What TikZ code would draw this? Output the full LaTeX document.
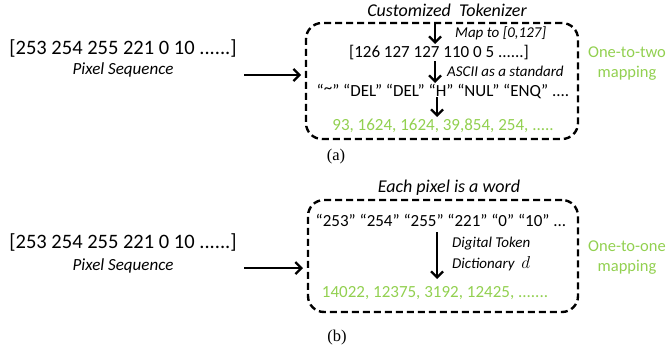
\documentclass[tikz,border=0pt]{standalone}
\usepackage{fontspec}
\setmainfont{Carlito}
\newfontfamily\capfont{Liberation Serif}
\usetikzlibrary{arrows.meta}
\definecolor{lgreen}{RGB}{146,208,80}
\begin{document}
\begin{tikzpicture}[x=1pt,y=-1pt,
  dbox/.style={draw,line width=2.4pt,dash pattern=on 7pt off 4pt,rounded corners=16pt},
  arr/.style={line width=2.3pt,-{Straight Barb[length=6pt,width=12pt,line width=2.3pt]}},
  main/.style={font=\fontsize{17}{19}\selectfont,inner sep=0pt},
  big/.style={font=\fontsize{20.5}{22}\selectfont,inner sep=0pt},
  lab/.style={font=\fontsize{17}{18}\selectfont\itshape,inner sep=0pt},
  ttl/.style={font=\fontsize{18}{20}\selectfont\itshape,inner sep=0pt},
  small/.style={font=\fontsize{15}{17}\selectfont\itshape,inner sep=0pt},
  grn/.style={font=\fontsize{17}{19}\selectfont,text=lgreen,inner sep=0pt},
  side/.style={font=\fontsize{16.5}{20}\selectfont,text=lgreen,inner sep=0pt,align=center},
  captext/.style={font=\capfont\fontsize{16.5}{18}\selectfont,inner sep=0pt}]
\useasboundingbox (0,0) rectangle (668,351);
% ---- (a)
\node[dbox,minimum width=272pt,minimum height=116pt] (boxa) at (442,81) {};
\node[ttl] (ta) at (447,10) {Customized\ \ Tokenizer};
\coordinate (a0) at (435,22);
\node[main] (a1) at (439,53) {[126 127 127 110 0 5 ......]};
\node[main] (a2) at (443,91) {“\raisebox{3pt}{\char`~}” “DEL” “DEL” “H” “NUL” “ENQ” ....};
\node[grn] (a3) at (443,126) {93, 1624, 1624, 39,854, 254, .....};
\coordinate (a1t) at (435,44);
\coordinate (a1b) at (435,61);
\coordinate (a2t) at (435,83);
\coordinate (a2b) at (437,97);
\coordinate (a3t) at (437,117);
\draw[arr] (a0) -- (a1t);
\draw[arr] (a1b) -- (a2t);
\draw[arr] (a2b) -- (a3t);
\node[small,anchor=west] (ma) at (455,33) {Map to [0,127]};
\node[small,anchor=west] (asc) at (447,71) {ASCII as a standard};
\node[side] (oa) at (627,64) {One-to-two\\mapping};
\node[big] (pa) at (123,48) {[253 254 255 221 0 10 ......]};
\node[lab] (psa) at (123,70) {Pixel Sequence};
\coordinate (sa) at (244,75);
\coordinate (ea) at (301,75);
\draw[arr] (sa) -- (ea);
\node[captext] (capa) at (336,157) {(a)};
% ---- (b)
\node[dbox,minimum width=270pt,minimum height=112pt] (boxb) at (443,256) {};
\node[ttl] (tb) at (449,188) {Each pixel is a word};
\node[main] (b1) at (441,220) {“253” “254” “255” “221” “0” “10” ...};
\node[grn] (b2) at (435,293) {14022, 12375, 3192, 12425, .......};
\coordinate (b1b) at (437,232);
\coordinate (b2t) at (437,279);
\draw[arr] (b1b) -- (b2t);
\node[small,anchor=west,align=left,font=\fontsize{15}{21}\selectfont\itshape] (dict) at (452,254) {Digital Token\\Dictionary \ {\fontsize{19}{19}\selectfont$d$}};
\node[side] (ob) at (627,258) {One-to-one\\mapping};
\node[big] (pb) at (123,242) {[253 254 255 221 0 10 ......]};
\node[lab] (psb) at (123,266) {Pixel Sequence};
\coordinate (sb) at (244,268);
\coordinate (eb) at (303,268);
\draw[arr] (sb) -- (eb);
\node[captext] (capb) at (337,338) {(b)};
\end{tikzpicture}
\end{document}
